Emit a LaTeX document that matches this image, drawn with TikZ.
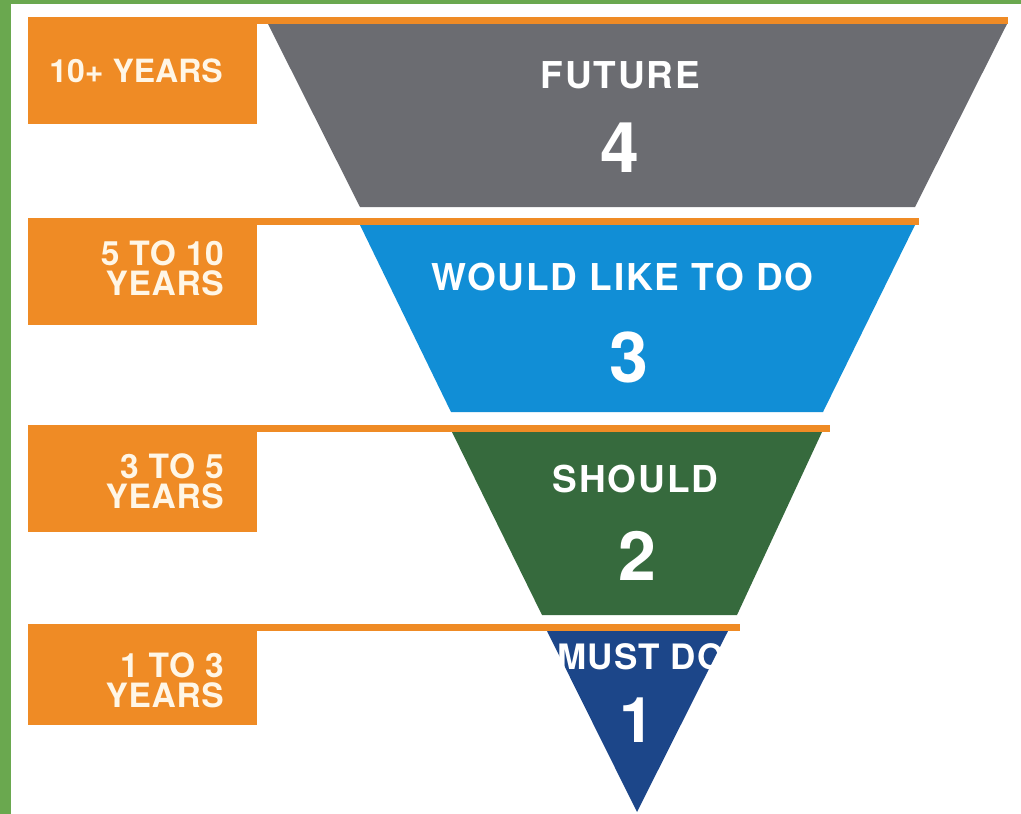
\documentclass[tikz,border=0pt]{standalone}
\usepackage{fontspec}
\setmainfont{TeX Gyre Heros}
\definecolor{frameGreen}{HTML}{6AA84F}
\definecolor{tagOrange}{HTML}{EF8B25}
\definecolor{bandGray}{HTML}{6B6C71}
\definecolor{bandBlue}{HTML}{118ED6}
\definecolor{bandGreen}{HTML}{366A3D}
\definecolor{bandNavy}{HTML}{1C4689}
\definecolor{tagText}{HTML}{FFF6E6}
\begin{document}
\begin{tikzpicture}[x=1pt,y=-1pt,
  tagbox/.style={fill=tagOrange, draw=none, minimum width=229pt, minimum height=107pt,
    inner sep=0pt, anchor=north west},
  tagtext/.style={text=tagText, font=\bfseries\fontsize{32}{30}\selectfont,
    inner sep=0pt, anchor=base east},
  tagline/.style={tagtext, font=\bfseries\fontsize{33.5}{30}\selectfont\addfontfeatures{LetterSpace=2},
    text height=24pt, text depth=0pt},
  bandtitle/.style={text=white, font=\bfseries\fontsize{37}{40}\selectfont\addfontfeatures{LetterSpace=5},
    inner sep=0pt, anchor=base},
  bandnum/.style={text=white, font=\bfseries\fontsize{70}{72}\selectfont,
    inner sep=0pt, anchor=base},
  rule/.style={fill=tagOrange, draw=none}]
  % canvas and frame
  \useasboundingbox (0,0) rectangle (1021,814);
  \fill[white] (0,0) rectangle (1021,814);
  \fill[frameGreen] (0,0) rectangle (11,814);
  \fill[frameGreen] (0,0) rectangle (1021,4);

  % funnel bands
  \fill[bandGray]  (268,24)  -- (1007,24)  -- (915,207) -- (360,207) -- cycle;
  \fill[bandBlue]  (360,225) -- (915,225)  -- (823,412) -- (451,412) -- cycle;
  \fill[bandGreen] (452,432) -- (822,432)  -- (737,615) -- (542,615) -- cycle;
  \fill[bandNavy]  (547,631) -- (728,631)  -- (637,812) -- cycle;

  % orange rules over each band
  \fill[rule] (250,17)  rectangle (1008,24);
  \fill[rule] (250,218) rectangle (919,225);
  \fill[rule] (250,425) rectangle (830,432);
  \fill[rule] (250,624) rectangle (740,631);

  % time-frame tags
  \node[tagbox] (tag4) at (28,17)  {};
  \node[tagbox] (tag3) at (28,218) {};
  \node[tagbox] (tag2) at (28,425) {};
  \node[tagbox, minimum height=101pt] (tag1) at (28,624) {};

  \node[tagtext] (tag4text) at (223,82)  {10+ YEARS};
  \node[tagline] (tag3top) at (224,265) {5 TO 10};
  \node[tagline] (tag3bot) at (224,295) {YEARS};
  \node[tagline] (tag2top) at (224,478) {3 TO 5};
  \node[tagline] (tag2bot) at (224,508) {YEARS};
  \node[tagline] (tag1top) at (224,677) {1 TO 3};
  \node[tagline] (tag1bot) at (224,707) {YEARS};

  % band captions and numbers
  \node[bandtitle] (future) at (620.5,88) {FUTURE};
  \node[bandnum]   (num4)   at (620,172)  {4};
  \node[bandtitle] (wouldlike) at (622.5,290) {WOULD LIKE TO DO};
  \node[bandnum]   (num3)   at (629,382)  {3};
  \node[bandtitle] (should) at (635.5,492) {SHOULD};
  \node[bandnum, font=\bfseries\fontsize{68}{70}\selectfont] (num2) at (637.5,580) {2};
  \node[bandtitle, font=\bfseries\fontsize{35}{38}\selectfont\addfontfeatures{LetterSpace=3}] (mustdo) at (641,669) {MUST DO};
  \node[bandnum, font=\bfseries\fontsize{63}{66}\selectfont] (num1) at (637.5,742) {1};
\end{tikzpicture}
\end{document}
